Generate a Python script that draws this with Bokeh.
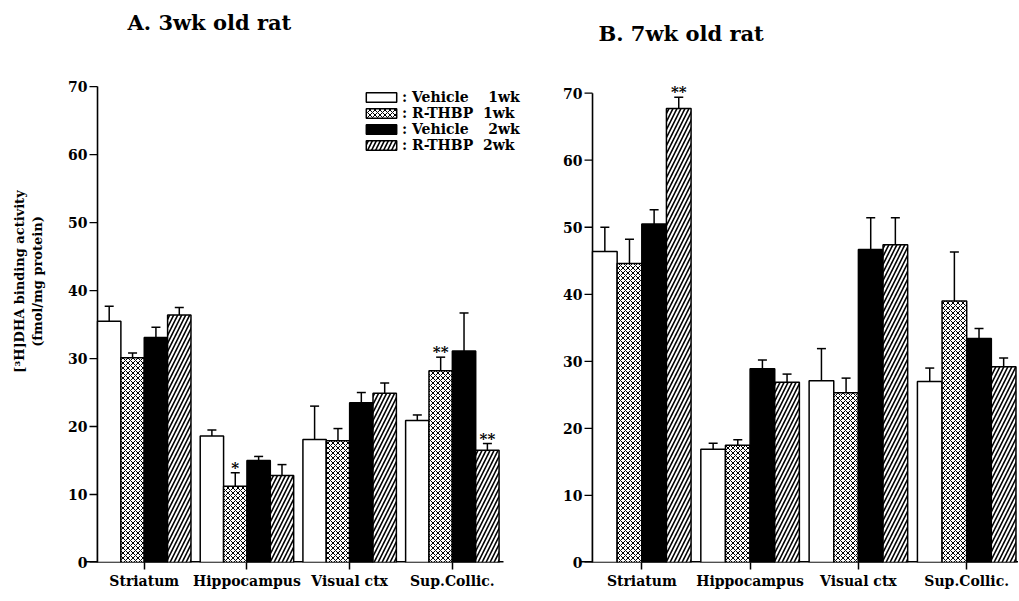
from bokeh.plotting import figure
from bokeh.layouts import row
from bokeh.models import FixedTicker, Legend, LegendItem, Range1d, Label
from bokeh.embed import file_html
from bokeh.resources import INLINE
from bokeh.core.properties import value

# Brain regions (x categories) and treatment groups
regions = ["Striatum", "Hippocampus", "Visual ctx", "Sup.Collic."]
groups = [": Vehicle\u00a0\u00a0\u00a0\u00a01wk", ": R-THBP\u00a0\u00a01wk",
          ": Vehicle\u00a0\u00a0\u00a0\u00a02wk", ": R-THBP\u00a0\u00a02wk"]
y_ticks = [0, 10, 20, 30, 40, 50, 60, 70]

# A. 3-week-old rats: mean binding (fmol/mg protein) and SEM
a_veh1 = [35.5, 18.6, 18.1, 20.9]
a_thbp1 = [30.1, 11.2, 17.9, 28.2]
a_veh2 = [33.1, 15.0, 23.5, 31.1]
a_thbp2 = [36.4, 12.8, 24.9, 16.5]
a_veh1_err = [2.2, 0.9, 4.9, 0.8]
a_thbp1_err = [0.7, 2.0, 1.8, 2.0]
a_veh2_err = [1.5, 0.6, 1.5, 5.6]
a_thbp2_err = [1.1, 1.6, 1.5, 1.0]
# significance marks: (region index, group index, mark)
a_marks = [(1, 1, "*"), (3, 1, "**"), (3, 3, "**")]

# B. 7-week-old rats
b_veh1 = [46.4, 16.9, 27.1, 27.0]
b_thbp1 = [44.6, 17.5, 25.3, 39.0]
b_veh2 = [50.5, 28.9, 46.7, 33.4]
b_thbp2 = [67.7, 26.9, 47.4, 29.2]
b_veh1_err = [3.6, 0.9, 4.8, 2.0]
b_thbp1_err = [3.6, 0.8, 2.2, 7.3]
b_veh2_err = [2.1, 1.3, 4.7, 1.5]
b_thbp2_err = [1.7, 1.2, 4.0, 1.3]
b_marks = [(0, 3, "**")]

FONT = "DejaVu Serif"
BAR_W = 0.2275
AXIS_X = -0.455
Y_MAX = 70

bar_styles = [
    dict(fill_color="white"),
    dict(fill_color="white", hatch_pattern="diagonal_cross", hatch_scale=5,
         hatch_color="black", hatch_weight=1),
    dict(fill_color="black"),
    dict(fill_color="white", hatch_pattern="right_diagonal_line", hatch_scale=8,
         hatch_color="black", hatch_weight=1.6),
]


def make_panel(means, errs, marks, title, width, borders, x_start, unit_px,
               axis_end, y_top, title_xy, legend_loc=None, y_label=None):
    left, right, bottom = borders
    frame_w = width - left - right
    x_end = x_start + frame_w / unit_px

    # the frame reaches the top of the canvas so the heading sits inside it
    p = figure(width=width, height=600, output_backend="svg", toolbar_location=None,
               x_range=Range1d(x_start, x_end), y_range=Range1d(0, y_top),
               min_border_left=left, min_border_right=right,
               min_border_top=0, min_border_bottom=bottom)
    p.title = None
    p.outline_line_color = None
    p.grid.grid_line_color = None
    p.background_fill_color = "white"

    p.add_layout(Label(x=title_xy[0], y=title_xy[1], text=title, text_align="left",
                       text_baseline="middle", text_font=FONT, text_font_style="bold",
                       text_font_size="21px", text_color="black"))

    # x axis: region names under small downward ticks; baseline drawn separately
    p.xaxis.ticker = FixedTicker(ticks=list(range(len(regions))))
    p.xaxis.major_label_overrides = {i: r for i, r in enumerate(regions)}
    p.xaxis.axis_line_color = None
    p.xaxis.major_tick_line_width = 1.5
    p.xaxis.major_tick_out = 7
    p.xaxis.major_tick_in = 0
    p.xaxis.minor_tick_line_color = None
    p.xaxis.major_label_standoff = 3
    p.xaxis.major_label_text_font = FONT
    p.xaxis.major_label_text_font_style = "bold"
    p.xaxis.major_label_text_font_size = "14px"
    p.xaxis.major_label_text_color = "black"
    p.segment(x0=[x_start], y0=[0], x1=[axis_end], y1=[0],
              line_color="black", line_width=3.2)

    # y axis: labels from the axis, line and ticks drawn at AXIS_X
    p.yaxis.ticker = FixedTicker(ticks=y_ticks)
    p.yaxis.axis_line_color = None
    p.yaxis.major_tick_line_color = None
    p.yaxis.minor_tick_line_color = None
    p.yaxis.major_tick_out = 0
    p.yaxis.major_tick_in = 0
    p.yaxis.major_label_standoff = -2
    p.yaxis.major_label_text_font = FONT
    p.yaxis.major_label_text_font_style = "bold"
    p.yaxis.major_label_text_font_size = "14px"
    p.yaxis.major_label_text_color = "black"
    if y_label:
        p.yaxis.axis_label = y_label
        p.yaxis.axis_label_text_font = FONT
        p.yaxis.axis_label_text_font_style = "bold"
        p.yaxis.axis_label_text_font_size = "13px"
        p.yaxis.axis_label_text_color = "black"
        p.yaxis.axis_label_standoff = 20

    p.segment(x0=[AXIS_X], y0=[0], x1=[AXIS_X], y1=[Y_MAX],
              line_color="black", line_width=1.6)
    tick_len = 8 / unit_px
    p.segment(x0=[AXIS_X - tick_len] * len(y_ticks), y0=y_ticks,
              x1=[AXIS_X] * len(y_ticks), y1=y_ticks,
              line_color="black", line_width=1.3)

    cap = 4.5 / unit_px
    renderers = []
    for j, (vals, err, style) in enumerate(zip(means, errs, bar_styles)):
        xs = [i + (j - 1.5) * BAR_W for i in range(len(regions))]
        tops = [v + e for v, e in zip(vals, err)]
        p.segment(x0=xs, y0=vals, x1=xs, y1=tops, line_color="black", line_width=1.5)
        p.segment(x0=[x - cap for x in xs], y0=tops, x1=[x + cap for x in xs], y1=tops,
                  line_color="black", line_width=1.5)
        r = p.vbar(x=xs, top=vals, bottom=0, width=BAR_W, line_color="black",
                   line_width=1.5, **style)
        renderers.append(r)

    if marks:
        mx = [i + (j - 1.5) * BAR_W for i, j, _ in marks]
        my = [means[j][i] + errs[j][i] for i, j, _ in marks]
        p.text(x=mx, y=my, text=[m for _, _, m in marks], text_align="center",
               text_baseline="alphabetic", y_offset=-5, text_font=value(FONT),
               text_font_style="bold", text_font_size="15px", text_color="black")

    if legend_loc:
        legend = Legend(items=[LegendItem(label=g, renderers=[r])
                               for g, r in zip(groups, renderers)],
                        location=legend_loc, orientation="vertical",
                        glyph_width=38, glyph_height=12, label_height=12,
                        spacing=0, padding=0, margin=0, label_standoff=2,
                        border_line_color=None, background_fill_alpha=0,
                        label_text_font=FONT, label_text_font_style="bold",
                        label_text_font_size="14px", label_text_color="black")
        p.add_layout(legend)
    return p


panel_a = make_panel(
    [a_veh1, a_thbp1, a_veh2, a_thbp2],
    [a_veh1_err, a_thbp1_err, a_veh2_err, a_thbp2_err],
    a_marks, "A. 3wk old rat", 540, (85, 5, 38), -0.572, 102.7, 3.498,
    82.66, (-0.163, 79.4), legend_loc=(277, 409),
    y_label="[\u00b3H]DHA binding activity\n(fmol/mg protein)")

panel_b = make_panel(
    [b_veh1, b_thbp1, b_veh2, b_thbp2],
    [b_veh1_err, b_thbp1_err, b_veh2_err, b_thbp2_err],
    b_marks, "B. 7wk old rat", 478, (40, 0, 34), -0.566, 108.3, 3.478,
    83.82, (-0.400, 78.9))

layout = row(panel_a, panel_b)
open("out.html", "w").write(file_html(layout, INLINE, "[3H]DHA binding"))
